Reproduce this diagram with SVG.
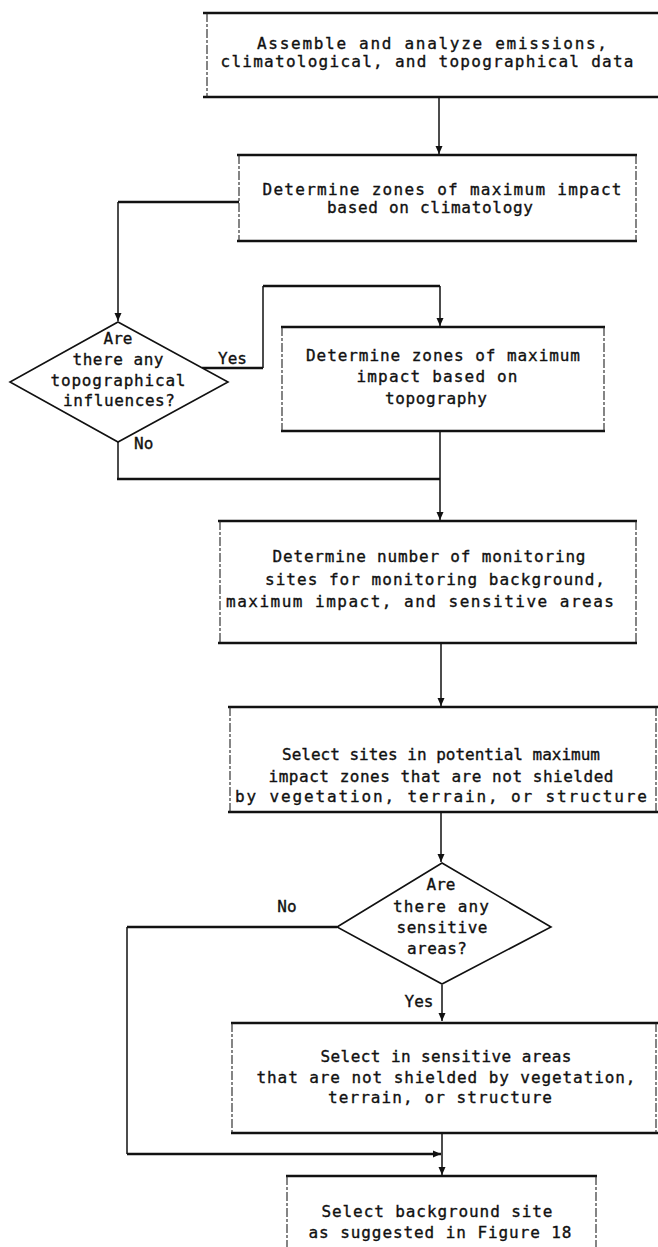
<svg xmlns="http://www.w3.org/2000/svg" width="658" height="1247" viewBox="0 0 658 1247">
<defs>
<style>
.h{stroke:#111;stroke-width:2.6;fill:none}
.v{stroke:#222;stroke-width:1.1;fill:none;stroke-dasharray:9 2 3 2}
.d{stroke:#111;stroke-width:1.6;fill:#fff}
.c{stroke:#111;stroke-width:1.5;fill:none}
.ch{stroke:#111;stroke-width:2.4;fill:none}
text{font-family:"DejaVu Sans Mono","Liberation Mono",monospace;font-size:16px;fill:#111;stroke:#111;stroke-width:0.35;text-anchor:middle}
.l{text-anchor:start}
</style>
<marker id="ar" viewBox="0 0 8 10" refX="8" refY="5" markerWidth="8" markerHeight="10" markerUnits="userSpaceOnUse" orient="auto">
<path d="M0,1.5 L8,5 L0,8.5 Z" fill="#111"/>
</marker>
</defs>
<rect width="658" height="1247" fill="#fff"/>

<g id="connectors">
<line class="c" x1="439" y1="98" x2="439" y2="154" marker-end="url(#ar)"/>
<polyline class="ch" points="239,202 118,202"/>
<line class="c" x1="118" y1="202" x2="118" y2="321" marker-end="url(#ar)"/>
<polyline class="ch" points="202,368 263,368"/>
<line class="c" x1="263" y1="368" x2="263" y2="286"/>
<line class="ch" x1="263" y1="286" x2="440" y2="286"/>
<line class="c" x1="440" y1="286" x2="440" y2="326" marker-end="url(#ar)"/>
<polyline class="c" points="118,442 118,479"/>
<line class="ch" x1="117" y1="479" x2="440" y2="479"/>
<line class="c" x1="440" y1="432" x2="440" y2="520" marker-end="url(#ar)"/>
<line class="c" x1="441" y1="644" x2="441" y2="706" marker-end="url(#ar)"/>
<line class="c" x1="441" y1="813" x2="441" y2="862" marker-end="url(#ar)"/>
<line class="ch" x1="337" y1="927" x2="127" y2="927"/>
<line class="c" x1="127" y1="927" x2="127" y2="1154"/>
<line class="ch" x1="127" y1="1154" x2="441" y2="1154" marker-end="url(#ar)"/>
<line class="c" x1="442" y1="985" x2="442" y2="1021" marker-end="url(#ar)"/>
<line class="c" x1="442" y1="1134" x2="442" y2="1175" marker-end="url(#ar)"/>
<text class="l" x="218" y="364">Yes</text>
<text class="l" x="134" y="449">No</text>
<text x="287" y="912">No</text>
<text x="419" y="1007">Yes</text>
</g>

<g id="box1">
<line class="h" x1="203" y1="13" x2="658" y2="13"/>
<line class="h" x1="203" y1="97" x2="658" y2="97"/>
<line class="v" x1="207" y1="13" x2="207" y2="97"/>
<text x="432" y="49" textLength="350" lengthAdjust="spacing">Assemble and analyze emissions,</text>
<text x="427" y="67" textLength="413" lengthAdjust="spacing">climatological, and topographical data</text>
</g>

<g id="box2">
<line class="h" x1="237" y1="155" x2="637" y2="155"/>
<line class="h" x1="237" y1="241" x2="637" y2="241"/>
<line class="v" x1="239" y1="155" x2="239" y2="241"/>
<line class="v" x1="636" y1="155" x2="636" y2="241"/>
<text x="442" y="195" textLength="359" lengthAdjust="spacing">Determine zones of maximum impact</text>
<text x="430" y="213" textLength="206" lengthAdjust="spacing">based on climatology</text>
</g>

<g id="decision1">
<polygon class="d" points="118,322 228,382 118,442 10,382"/>
<text x="118" y="344">Are</text>
<text x="118" y="365" textLength="91" lengthAdjust="spacing">there any</text>
<text x="118" y="386" textLength="135" lengthAdjust="spacing">topographical</text>
<text x="119" y="406" textLength="112" lengthAdjust="spacing">influences?</text>
</g>

<g id="box3">
<line class="h" x1="281" y1="327" x2="605" y2="327"/>
<line class="h" x1="281" y1="431" x2="605" y2="431"/>
<line class="v" x1="282" y1="327" x2="282" y2="431"/>
<line class="v" x1="604" y1="327" x2="604" y2="431"/>
<text x="443" y="361" textLength="274" lengthAdjust="spacing">Determine zones of maximum</text>
<text x="437" y="382" textLength="161" lengthAdjust="spacing">impact based on</text>
<text x="436" y="404" textLength="102" lengthAdjust="spacing">topography</text>
</g>

<g id="box4">
<line class="h" x1="218" y1="521" x2="637" y2="521"/>
<line class="h" x1="218" y1="643" x2="637" y2="643"/>
<line class="v" x1="220" y1="521" x2="220" y2="643"/>
<line class="v" x1="636" y1="521" x2="636" y2="643"/>
<text x="429" y="562" textLength="313" lengthAdjust="spacing">Determine number of monitoring</text>
<text x="435" y="585" textLength="340" lengthAdjust="spacing">sites for monitoring background,</text>
<text x="420" y="607" textLength="388" lengthAdjust="spacing">maximum impact, and sensitive areas</text>
</g>

<g id="box5">
<line class="h" x1="228" y1="707" x2="658" y2="707"/>
<line class="h" x1="228" y1="812" x2="658" y2="812"/>
<line class="v" x1="230" y1="707" x2="230" y2="812"/>
<line class="v" x1="656" y1="707" x2="656" y2="812"/>
<text x="441" y="760" textLength="318" lengthAdjust="spacing">Select sites in potential maximum</text>
<text x="441" y="782" textLength="345" lengthAdjust="spacing">impact zones that are not shielded</text>
<text x="441" y="802" textLength="412" lengthAdjust="spacing">by vegetation, terrain, or structure</text>
</g>

<g id="decision2">
<polygon class="d" points="442,863 551,927 442,984 337,927"/>
<text x="441" y="890">Are</text>
<text x="441" y="912" textLength="96" lengthAdjust="spacing">there any</text>
<text x="442" y="933" textLength="91" lengthAdjust="spacing">sensitive</text>
<text x="437" y="954" textLength="60" lengthAdjust="spacing">areas?</text>
</g>

<g id="box6">
<line class="h" x1="231" y1="1023" x2="658" y2="1023"/>
<line class="h" x1="231" y1="1133" x2="658" y2="1133"/>
<line class="v" x1="232" y1="1023" x2="232" y2="1133"/>
<line class="v" x1="656" y1="1023" x2="656" y2="1133"/>
<text x="446" y="1062" textLength="251" lengthAdjust="spacing">Select in sensitive areas</text>
<text x="446" y="1083" textLength="379" lengthAdjust="spacing">that are not shielded by vegetation,</text>
<text x="440" y="1103" textLength="224" lengthAdjust="spacing">terrain, or structure</text>
</g>

<g id="box7">
<line class="h" x1="286" y1="1176" x2="597" y2="1176"/>
<line class="v" x1="287" y1="1176" x2="287" y2="1247"/>
<line class="v" x1="596" y1="1176" x2="596" y2="1247"/>
<text x="437" y="1217" textLength="231" lengthAdjust="spacing">Select background site</text>
<text x="440" y="1238" textLength="263" lengthAdjust="spacing">as suggested in Figure 18</text>
</g>
</svg>
